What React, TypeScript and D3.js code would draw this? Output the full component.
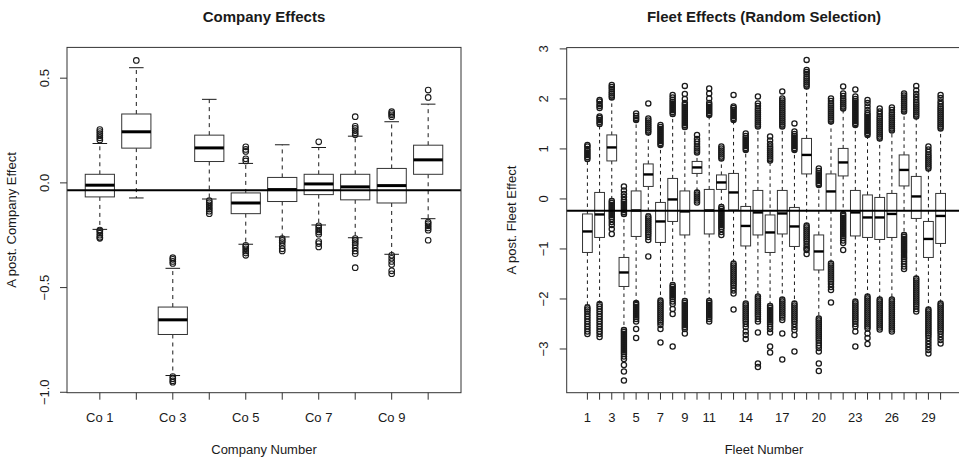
import React from 'react';
import * as d3 from 'd3';

const FONT = '"Liberation Sans", Arial, Helvetica, sans-serif';

// ---------- Company effects ----------
const companyLabels = ['Co 1', 'Co 2', 'Co 3', 'Co 4', 'Co 5', 'Co 6', 'Co 7', 'Co 8', 'Co 9', 'Co 10'];
const companyTickLabels = ['Co 1', '', 'Co 3', '', 'Co 5', '', 'Co 7', '', 'Co 9', ''];
// [lower whisker, Q1, median, Q3, upper whisker]
const companyStats: number[][] = [
  [-0.222, -0.067, -0.011, 0.041, 0.188],
  [-0.072, 0.166, 0.244, 0.329, 0.55],
  [-0.92, -0.724, -0.654, -0.593, -0.408],
  [-0.077, 0.102, 0.167, 0.228, 0.399],
  [-0.293, -0.147, -0.096, -0.048, 0.093],
  [-0.258, -0.089, -0.032, 0.026, 0.182],
  [-0.201, -0.056, -0.005, 0.041, 0.169],
  [-0.262, -0.081, -0.019, 0.041, 0.223],
  [-0.341, -0.096, -0.013, 0.069, 0.292],
  [-0.171, 0.041, 0.11, 0.18, 0.376],
];
const companyOutliers: number[][] = [
  [0.205, 0.215, 0.225, 0.235, 0.245, 0.255, -0.225, -0.23, -0.24, -0.25, -0.26, -0.265],
  [0.585],
  [-0.357, -0.365, -0.375, -0.385, -0.925, -0.935, -0.945, -0.952],
  [-0.085, -0.095, -0.105, -0.115, -0.125, -0.135, -0.147],
  [0.105, 0.115, 0.15, 0.16, 0.172, -0.298, -0.305, -0.315, -0.325, -0.335, -0.346],
  [-0.266, -0.275, -0.285, -0.3, -0.315, -0.325],
  [0.196, -0.205, -0.215, -0.225, -0.235, -0.245, -0.28, -0.29, -0.306],
  [0.23, 0.24, 0.25, 0.26, 0.27, 0.316, -0.266, -0.275, -0.285, -0.295, -0.31, -0.325, -0.338, -0.405],
  [0.316, 0.325, 0.332, 0.34, -0.346, -0.36, -0.375, -0.39, -0.42, -0.434],
  [0.408, 0.443, -0.187, -0.195, -0.205, -0.215, -0.226, -0.274],
];
const companyYTicks = [-1.0, -0.5, 0.0, 0.5];
const companyYTickText = ['\u22121.0', '\u22120.5', '0.0', '0.5'];
const companyRefLine = -0.035;

// ---------- Fleet effects ----------
const fleetNumbers = ['1','2','3','4','5','6','7','8','9','10','11','12','13','14','15','16','17','18','19','20','21','22','23','24','25','26','27','28','29','30'];
const fleetTickLabels = ['1','','3','','5','','7','','9','','11','','','14','','','17','','','20','','','23','','','26','','','29',''];
const fleetStats: number[][] = [
  [-2.12, -1.07, -0.65, -0.3, 0.76],
  [-2.07, -0.77, -0.31, 0.13, 1.46],
  [0.0, 0.76, 1.03, 1.28, 2.0],
  [-2.58, -1.75, -1.47, -1.17, -0.34],
  [-2.05, -0.75, -0.23, 0.16, 1.55],
  [-0.3, 0.25, 0.49, 0.7, 1.3],
  [-2.0, -0.87, -0.45, -0.07, 1.05],
  [-1.68, -0.45, -0.01, 0.41, 1.66],
  [-2.0, -0.72, -0.25, 0.16, 1.4],
  [0.17, 0.51, 0.63, 0.75, 0.9],
  [-2.0, -0.7, -0.23, 0.19, 1.65],
  [-0.12, 0.19, 0.33, 0.48, 0.78],
  [-1.25, -0.22, 0.13, 0.51, 1.55],
  [-2.06, -0.94, -0.54, -0.15, 0.95],
  [-1.92, -0.72, -0.27, 0.17, 1.42],
  [-2.1, -1.07, -0.67, -0.32, 0.75],
  [-1.98, -0.7, -0.29, 0.17, 1.42],
  [-2.05, -0.95, -0.55, -0.17, 0.95],
  [-0.5, 0.5, 0.88, 1.21, 2.22],
  [-2.36, -1.42, -1.05, -0.72, 0.25],
  [-1.25, -0.23, 0.15, 0.5, 1.52],
  [-0.27, 0.46, 0.73, 1.01, 1.78],
  [-2.02, -0.74, -0.27, 0.17, 1.45],
  [-1.92, -0.77, -0.37, 0.08, 1.25],
  [-1.98, -0.81, -0.37, 0.03, 1.18],
  [-1.98, -0.77, -0.3, 0.11, 1.34],
  [-0.68, 0.26, 0.58, 0.88, 1.72],
  [-1.55, -0.39, 0.05, 0.45, 1.62],
  [-2.18, -1.17, -0.8, -0.45, 0.58],
  [-2.06, -0.89, -0.34, 0.11, 1.38],
];
const fleetOutliers: number[][] = [
  [0.8, 0.84, 0.88, 0.92, 0.96, 1.0, 1.05, 1.08, -2.17, -2.21, -2.25, -2.3, -2.35, -2.4, -2.45, -2.5, -2.55, -2.6, -2.65, -2.7],
  [1.5, 1.54, 1.58, 1.62, 1.65, 1.82, 1.86, 1.9, 1.95, 1.98, -2.1, -2.15, -2.2, -2.25, -2.3, -2.35, -2.4, -2.45, -2.5, -2.55, -2.6, -2.65, -2.7, -2.76],
  [2.03, 2.07, 2.11, 2.15, 2.2, 2.24, 2.28, -0.04, -0.08, -0.12, -0.16, -0.2, -0.24, -0.28, -0.32, -0.36, -0.4, -0.46, -0.52, -0.6, -0.7],
  [-0.3, -0.26, -0.22, -0.18, -0.14, -0.1, -0.06, -0.02, 0.04, 0.1, 0.17, 0.25, -2.62, -2.66, -2.7, -2.74, -2.78, -2.82, -2.86, -2.9, -2.94, -2.98, -3.02, -3.06, -3.1, -3.15, -3.2, -3.32, -3.45, -3.63],
  [1.58, 1.62, 1.66, 1.71, -2.08, -2.12, -2.16, -2.2, -2.24, -2.28, -2.32, -2.36, -2.4, -2.45, -2.6, -2.78],
  [1.33, 1.37, 1.41, 1.45, 1.49, 1.53, 1.57, 1.61, 1.91, -0.35, -0.39, -0.43, -0.47, -0.51, -0.55, -0.59, -0.63, -0.67, -0.71, -0.76, -0.82, -1.15],
  [1.08, 1.12, 1.16, 1.2, 1.24, 1.28, 1.32, 1.36, 1.4, 1.44, 1.48, -2.03, -2.07, -2.11, -2.15, -2.19, -2.23, -2.27, -2.31, -2.35, -2.39, -2.43, -2.47, -2.52, -2.6, -2.87],
  [1.7, 1.74, 1.78, 1.82, 1.86, 1.9, 1.94, 1.98, 2.03, 2.08, -1.72, -1.76, -1.8, -1.84, -1.88, -1.92, -1.96, -2.0, -2.05, -2.1, -2.2, -2.3, -2.95],
  [1.44, 1.48, 1.52, 1.56, 1.6, 1.64, 1.68, 1.72, 1.76, 1.8, 1.84, 1.88, 1.92, 2.0, 2.1, 2.26, -2.04, -2.08, -2.12, -2.16, -2.2, -2.24, -2.28, -2.32, -2.36, -2.4, -2.44, -2.48, -2.52, -2.56, -2.6, -2.69],
  [0.93, 0.97, 1.01, 1.05, 1.1, 1.15, 1.2, 1.28, 0.13, 0.09, 0.05, 0.01, -0.03, -0.07],
  [1.68, 1.72, 1.76, 1.8, 1.84, 1.88, 1.92, 2.01, 2.11, 2.21, -2.04, -2.08, -2.12, -2.16, -2.2, -2.24, -2.28, -2.32, -2.36, -2.4, -2.45],
  [0.81, 0.85, 0.89, 0.93, 0.97, 1.01, 1.05, -0.16, -0.2, -0.24, -0.28, -0.32, -0.36, -0.4, -0.44, -0.48, -0.52, -0.56, -0.6, -0.66, -0.72],
  [1.58, 1.62, 1.66, 1.7, 1.74, 1.78, 1.82, 1.85, 2.08, -1.29, -1.33, -1.37, -1.41, -1.45, -1.49, -1.53, -1.57, -1.61, -1.65, -1.69, -1.73, -1.78, -1.83, -1.89, -2.21],
  [0.98, 1.02, 1.06, 1.1, 1.14, 1.18, 1.22, 1.26, 1.31, -2.09, -2.13, -2.17, -2.21, -2.25, -2.29, -2.33, -2.37, -2.41, -2.45, -2.5, -2.56, -2.65, -2.72, -2.8],
  [1.45, 1.49, 1.53, 1.57, 1.61, 1.65, 1.69, 1.73, 1.77, 1.81, 1.86, 1.91, 2.05, -1.95, -1.99, -2.03, -2.07, -2.11, -2.15, -2.19, -2.23, -2.27, -2.31, -2.35, -2.4, -2.45, -2.67, -3.29, -3.36],
  [0.77, 0.81, 0.85, 0.89, 0.93, 0.97, 1.01, 1.05, 1.1, 1.17, 1.25, -2.14, -2.18, -2.22, -2.26, -2.3, -2.34, -2.38, -2.42, -2.46, -2.5, -2.55, -2.6, -2.67, -2.95, -3.07],
  [1.45, 1.49, 1.53, 1.57, 1.61, 1.65, 1.69, 1.73, 1.77, 1.81, 1.85, 1.89, 1.93, 1.97, 2.01, 2.15, -2.01, -2.05, -2.09, -2.13, -2.17, -2.21, -2.25, -2.29, -2.33, -2.37, -2.42, -2.69, -3.21],
  [0.98, 1.02, 1.06, 1.1, 1.14, 1.18, 1.22, 1.26, 1.3, 1.35, 1.51, -2.09, -2.13, -2.17, -2.21, -2.25, -2.29, -2.33, -2.37, -2.41, -2.45, -2.5, -2.56, -2.62, -2.72, -3.05],
  [2.25, 2.29, 2.33, 2.37, 2.41, 2.45, 2.5, 2.54, 2.58, 2.78, -0.53, -0.57, -0.61, -0.65, -0.69, -0.73, -0.77, -0.81, -0.85, -0.9, -0.95, -0.99, -1.02, -1.1],
  [0.28, 0.32, 0.36, 0.4, 0.44, 0.48, 0.52, 0.56, 0.61, -2.39, -2.43, -2.47, -2.51, -2.55, -2.59, -2.63, -2.67, -2.71, -2.75, -2.79, -2.83, -2.88, -2.93, -2.98, -3.05, -3.29, -3.44],
  [1.55, 1.59, 1.63, 1.67, 1.71, 1.75, 1.79, 1.83, 1.87, 1.91, 1.96, 2.01, -1.29, -1.33, -1.37, -1.41, -1.45, -1.49, -1.53, -1.57, -1.61, -1.65, -1.7, -1.76, -1.82, -2.07],
  [1.81, 1.85, 1.89, 1.93, 1.97, 2.01, 2.06, 2.11, 2.25, -0.3, -0.34, -0.38, -0.42, -0.46, -0.5, -0.54, -0.58, -0.62, -0.66, -0.7, -0.74, -0.78, -0.83, -0.88, -1.02],
  [1.48, 1.52, 1.56, 1.6, 1.64, 1.68, 1.72, 1.76, 1.8, 1.84, 1.88, 1.92, 1.96, 2.0, 2.05, 2.19, -2.05, -2.09, -2.13, -2.17, -2.21, -2.25, -2.29, -2.33, -2.37, -2.41, -2.45, -2.5, -2.55, -2.65, -2.95],
  [1.28, 1.32, 1.36, 1.4, 1.44, 1.48, 1.52, 1.56, 1.6, 1.64, 1.68, 1.72, 1.78, 1.85, 1.92, 1.98, -1.95, -1.99, -2.03, -2.07, -2.11, -2.15, -2.19, -2.23, -2.27, -2.31, -2.35, -2.39, -2.43, -2.47, -2.51, -2.55, -2.59, -2.69, -2.78, -2.9],
  [1.21, 1.25, 1.29, 1.33, 1.37, 1.41, 1.45, 1.49, 1.53, 1.57, 1.61, 1.65, 1.7, 1.75, 1.81, -2.01, -2.05, -2.09, -2.13, -2.17, -2.21, -2.25, -2.29, -2.33, -2.37, -2.41, -2.45, -2.49, -2.53, -2.57, -2.61],
  [1.37, 1.41, 1.45, 1.49, 1.53, 1.57, 1.61, 1.65, 1.69, 1.73, 1.78, 1.83, -2.01, -2.05, -2.09, -2.13, -2.17, -2.21, -2.25, -2.29, -2.33, -2.37, -2.41, -2.45, -2.49, -2.53, -2.57, -2.61, -2.65],
  [1.75, 1.79, 1.83, 1.87, 1.91, 1.95, 1.99, 2.03, 2.07, 2.11, -0.72, -0.76, -0.8, -0.84, -0.88, -0.92, -0.96, -1.0, -1.04, -1.08, -1.12, -1.16, -1.2, -1.25, -1.3, -1.35, -1.4],
  [1.65, 1.69, 1.73, 1.77, 1.81, 1.85, 1.89, 1.93, 1.98, 2.04, 2.1, 2.17, 2.26, -1.59, -1.63, -1.67, -1.71, -1.75, -1.79, -1.83, -1.87, -1.91, -1.95, -1.99, -2.03, -2.07, -2.11, -2.15, -2.2, -2.25],
  [0.61, 0.65, 0.69, 0.73, 0.77, 0.81, 0.85, 0.89, 0.94, 0.99, 1.05, -2.21, -2.25, -2.29, -2.33, -2.37, -2.41, -2.45, -2.49, -2.53, -2.57, -2.61, -2.65, -2.69, -2.73, -2.78, -2.84, -2.9, -2.96, -3.02, -3.09],
  [1.41, 1.45, 1.49, 1.53, 1.57, 1.61, 1.65, 1.69, 1.73, 1.77, 1.81, 1.85, 1.9, 1.95, 2.02, 2.08, -2.09, -2.13, -2.17, -2.21, -2.25, -2.29, -2.33, -2.37, -2.41, -2.45, -2.49, -2.53, -2.57, -2.61, -2.65, -2.7, -2.76, -2.82, -2.89],
];
const fleetYTicks = [-3, -2, -1, 0, 1, 2, 3];
const fleetYTickText = ['\u22123', '\u22122', '\u22121', '0', '1', '2', '3'];
const fleetRefLine = -0.234;

type PanelProps = {
  left: number; right: number; top: number; bottom: number;
  yDomain: [number, number];
  n: number;
  stats: number[][];
  outliers: number[][];
  tickLabels: string[];
  yTicks: number[];
  yTickText: string[];
  refLine: number;
  title: string; xTitle: string; yTitle: string;
  medW: number; r: number; ptW: number; dash: string;
  yTickLabelX: number; yTitleX: number;
};

function BoxPanel(p: PanelProps) {
  const pad = p.n * 0.04;
  const x = d3.scaleLinear().domain([0.5 - pad, p.n + 0.5 + pad]).range([p.left, p.right]);
  const y = d3.scaleLinear().domain(p.yDomain).range([p.bottom, p.top]);
  const half = (x(1.4) - x(1));
  const staple = half / 2;
  const cx = (p.left + p.right) / 2;
  const cy = (p.top + p.bottom) / 2;
  const ink = '#1a1a1a';
  return (
    <g>
      <text x={cx} y={21.5} textAnchor="middle" fontFamily={FONT} fontWeight="bold" fontSize={15} fill={ink}>{p.title}</text>
      {p.stats.map((s, i) => {
        const xc = x(i + 1);
        return (
          <g key={i}>
            <line x1={xc} x2={xc} y1={y(s[3])} y2={y(s[4])} stroke={ink} strokeWidth={1} strokeDasharray={p.dash} />
            <line x1={xc} x2={xc} y1={y(s[1])} y2={y(s[0])} stroke={ink} strokeWidth={1} strokeDasharray={p.dash} />
            <line x1={xc - staple} x2={xc + staple} y1={y(s[4])} y2={y(s[4])} stroke={ink} strokeWidth={1} />
            <line x1={xc - staple} x2={xc + staple} y1={y(s[0])} y2={y(s[0])} stroke={ink} strokeWidth={1} />
            <rect x={xc - half} y={y(s[3])} width={2 * half} height={y(s[1]) - y(s[3])} fill="white" stroke="#333" strokeWidth={1} />
            <line x1={xc - half} x2={xc + half} y1={y(s[2])} y2={y(s[2])} stroke="#000" strokeWidth={p.medW} />
            {p.outliers[i].map((o, j) => (
              <circle key={j} cx={xc} cy={y(o)} r={p.r} fill="none" stroke={ink} strokeWidth={p.ptW} />
            ))}
          </g>
        );
      })}
      <line x1={p.left} x2={p.right} y1={y(p.refLine)} y2={y(p.refLine)} stroke="#000" strokeWidth={2} />
      <rect x={p.left} y={p.top} width={p.right - p.left} height={p.bottom - p.top} fill="none" stroke="#333" strokeWidth={1} />
      {p.yTicks.map((t, i) => (
        <g key={i}>
          <line x1={p.left - 7} x2={p.left} y1={y(t)} y2={y(t)} stroke="#333" strokeWidth={1} />
          <text transform={`translate(${p.yTickLabelX},${y(t)}) rotate(-90)`} textAnchor="middle" fontFamily={FONT} fontSize={13} fill={ink}>{p.yTickText[i]}</text>
        </g>
      ))}
      {p.tickLabels.map((lab, i) => (
        <g key={i}>
          <line x1={x(i + 1)} x2={x(i + 1)} y1={p.bottom} y2={p.bottom + 7} stroke="#333" strokeWidth={1} />
          {lab ? <text x={x(i + 1)} y={422} textAnchor="middle" fontFamily={FONT} fontSize={13} fill={ink}>{lab}</text> : null}
        </g>
      ))}
      <text x={cx} y={453.5} textAnchor="middle" fontFamily={FONT} fontSize={13} fill={ink}>{p.xTitle}</text>
      <text transform={`translate(${p.yTitleX},${cy}) rotate(-90)`} textAnchor="middle" fontFamily={FONT} fontSize={13} fill={ink}>{p.yTitle}</text>
    </g>
  );
}

export default function App() {
  return (
    <svg width={959} height={458} style={{ position: 'absolute', left: 0, top: 0, background: 'white' }}>
      <rect width={959} height={458} fill="white" />
      <BoxPanel
        left={67} right={461} top={47.4} bottom={392.7}
        yDomain={[-1.002, 0.647]}
        n={companyLabels.length}
        stats={companyStats} outliers={companyOutliers}
        tickLabels={companyTickLabels}
        yTicks={companyYTicks} yTickText={companyYTickText}
        refLine={companyRefLine}
        title="Company Effects" xTitle="Company Number" yTitle="A post. Company Effect"
        medW={3} r={2.8} ptW={1.1} dash="4,4" yTickLabelX={48.5} yTitleX={16}
      />
      <BoxPanel
        left={566.7} right={961.3} top={47.6} bottom={392.7}
        yDomain={[-3.874, 3.026]}
        n={fleetNumbers.length}
        stats={fleetStats} outliers={fleetOutliers}
        tickLabels={fleetTickLabels}
        yTicks={fleetYTicks} yTickText={fleetYTickText}
        refLine={fleetRefLine}
        title="Fleet Effects (Random Selection)" xTitle="Fleet Number" yTitle="A post. Fleet Effect"
        medW={2.4} r={2.6} ptW={1.3} dash="3.5,3.5" yTickLabelX={547.5} yTitleX={515.5}
      />
    </svg>
  );
}
